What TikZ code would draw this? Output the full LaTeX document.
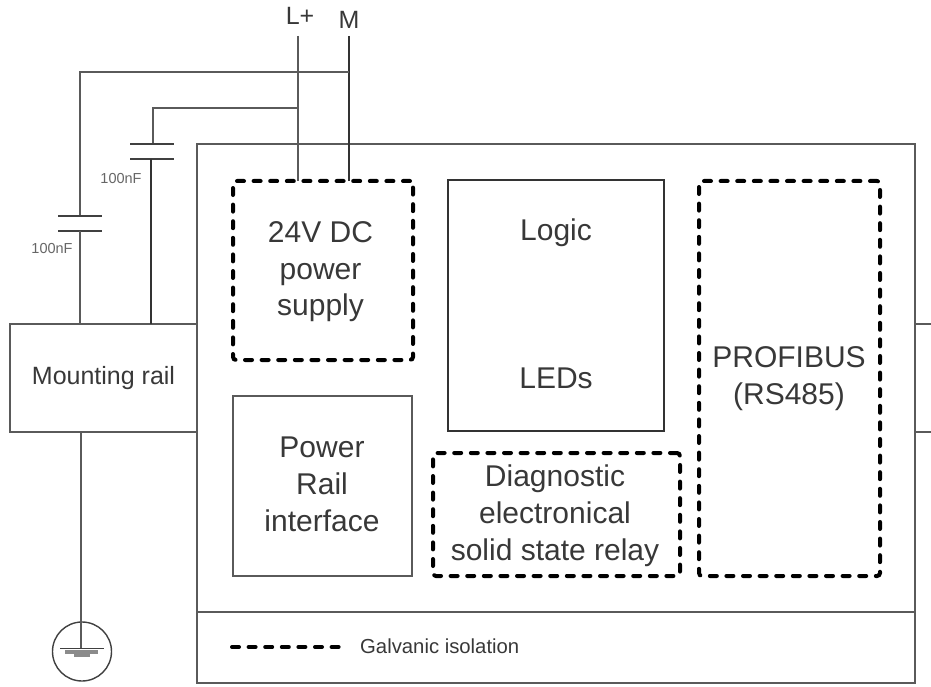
\documentclass[tikz,border=0pt]{standalone}
\usepackage{fontspec}
\setmainfont{Liberation Sans}
\definecolor{wirecol}{HTML}{5A5A5A}
\definecolor{textcol}{HTML}{383838}
\newcommand{\labelsize}[1]{\fontsize{#1}{#1}\selectfont}
\tikzset{
  solidbox/.style={draw=wirecol, line width=2pt, inner sep=0pt, text=textcol, align=center},
  isolbox/.style={draw=black, line width=4pt, dash pattern=on 7pt off 9.6pt, line cap=round, rounded corners=3pt, inner sep=0pt, text=textcol, align=center},
  wire/.style={draw=wirecol, line width=2.2pt},
  thinwire/.style={draw=black!80, line width=1.6pt},
  plate/.style={draw=black!75, line width=1.5pt},
  caplabel/.style={text=black!60, font=\labelsize{14.5}, inner sep=0pt},
  pinlabel/.style={text=textcol, font=\labelsize{25}, inner sep=0pt}
}
\begin{document}
\begin{tikzpicture}[x=1pt,y=-1pt,font=\labelsize{30}]
  \useasboundingbox (0,0) rectangle (931,687);

  % Module housing
  \node[solidbox, minimum width=718pt, minimum height=539pt] (housing) at (556,413.5) {};
  \coordinate (divleft) at (197,612);
  \coordinate (divright) at (915,612);
  \draw[wire] (divleft) -- (divright);

  % Mounting rail
  \node[solidbox, minimum width=187pt, minimum height=108pt, font=\labelsize{25}] (rail) at (103.5,378) {Mounting rail};
  \coordinate (railout1) at (915,324);
  \coordinate (railend1) at (931,324);
  \coordinate (railout2) at (915,432);
  \coordinate (railend2) at (931,432);
  \draw[wire, line width=1.5pt] (railout1) -- (railend1);
  \draw[wire] (railout2) -- (railend2);

  % Function blocks
  \node[isolbox, minimum width=180pt, minimum height=179pt] (supply) at (323,270.5) {};
  \node[text=textcol, align=center, inner sep=0pt] (supplytxt) at (320.5,272) {24V DC\\[6.5pt]power\\[6.5pt]supply};
  \node[solidbox, line width=1.4pt, draw=black!80, minimum width=216pt, minimum height=251pt] (logic) at (556,305.5) {};
  \node[text=textcol, inner sep=0pt] (logictxt) at (556,233) {Logic};
  \node[text=textcol, inner sep=0pt] (ledtxt) at (556,378) {LEDs};
  \node[isolbox, minimum width=181pt, minimum height=395pt] (profibus) at (789.5,378.5) {};
  \node[text=textcol, align=center, inner sep=0pt] (profibustxt) at (789,379) {PROFIBUS\\[7pt](RS485)};
  \node[solidbox, minimum width=179pt, minimum height=180pt] (railif) at (322.5,486) {};
  \node[text=textcol, align=center, inner sep=0pt] (railiftxt) at (322,484) {Power\\[7pt]Rail\\[7pt]interface};
  \node[isolbox, minimum width=247pt, minimum height=123pt] (relay) at (556.5,514.5) {};
  \node[text=textcol, align=center, inner sep=0pt] (relaytxt) at (555,516) {Diagnostic\\[7pt]electronical\\[7pt]solid state relay};

  % Legend
  \coordinate (legstart) at (232,647);
  \coordinate (legend) at (340,647);
  \draw[draw=black, line width=4pt, dash pattern=on 7pt off 9.6pt, line cap=round] (legstart) -- (legend);
  \node[anchor=west, text=textcol, font=\labelsize{20.3}, inner sep=0pt] (legtxt) at (360,646) {Galvanic isolation};

  % Supply lines
  \node[pinlabel] (lplus) at (300,16) {L+};
  \node[pinlabel] (mline) at (349,20) {M};
  \coordinate (lptop) at (298,36);
  \coordinate (mtop) at (349,36);
  \coordinate (lpin) at (298,181);
  \coordinate (min) at (349,181);
  \draw[wire] (lptop) -- (lpin);
  \draw[thinwire] (mtop) -- (min);

  % Outer capacitor
  \coordinate (outerjoin) at (349,72);
  \coordinate (outercorner) at (80,72);
  \coordinate (capa1) at (80,216);
  \coordinate (capa2) at (80,231);
  \coordinate (capa3) at (80,324);
  \draw[wire] (outerjoin) -- (outercorner) -- (capa1);
  \draw[plate] (58,216) -- (102,216);
  \draw[plate] (58,231) -- (102,231);
  \draw[wire] (capa2) -- (capa3);
  \node[caplabel] (capatxt) at (52,249) {100nF};

  % Inner capacitor
  \coordinate (innerjoin) at (298,108);
  \coordinate (innercorner) at (153,108);
  \coordinate (capb1) at (153,144);
  \coordinate (capb2) at (151,159);
  \coordinate (capb3) at (151,324);
  \draw[wire] (innerjoin) -- (innercorner) -- (capb1);
  \draw[plate] (130,144) -- (174,144);
  \draw[plate] (130,159) -- (174,159);
  \draw[thinwire] (capb2) -- (capb3);
  \node[caplabel] (capbtxt) at (121,179) {100nF};

  % Earth
  \node[draw=black!75, line width=1.4pt, circle, minimum size=59pt, inner sep=0pt] (earth) at (82,651.5) {};
  \coordinate (railbot) at (81,432);
  \coordinate (earthin) at (81,649);
  \draw[wire] (railbot) -- (earthin);
  \draw[plate] (60,648.5) -- (104,648.5);
  \fill[wirecol!70] (65,650) rectangle (98,653.5);
  \fill[wirecol!70] (74,653.5) rectangle (90,657);
\end{tikzpicture}
\end{document}
